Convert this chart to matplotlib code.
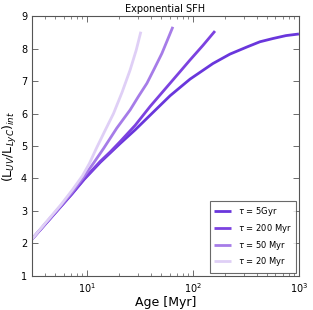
import matplotlib
matplotlib.use("Agg")
import matplotlib.pyplot as plt

labels = [r"$\tau$ = 5Gyr", r"$\tau$ = 200 Myr", r"$\tau$ = 50 Myr", r"$\tau$ = 20 Myr"]
colors = ["#6936dc", "#7c42e0", "#a67ce8", "#dfcff6"]

age_5gyr = [3.0, 4.0, 5.6, 7.2, 9.4, 13.3, 20.5, 28.4, 39.3, 60.7, 93.6, 154, 223, 323, 428, 568, 754, 1000]
val_5gyr = [2.13, 2.59, 3.13, 3.53, 3.98, 4.50, 5.08, 5.50, 5.95, 6.55, 7.06, 7.54, 7.83, 8.05, 8.21, 8.31, 8.40, 8.45]

age_200 = [3.0, 4.0, 5.6, 7.2, 9.4, 13.3, 16.5, 20.5, 28.4, 39.3, 56.6, 75.3, 93.6, 124, 161]
val_200 = [2.13, 2.59, 3.13, 3.54, 4.00, 4.53, 4.82, 5.14, 5.64, 6.22, 6.82, 7.29, 7.65, 8.10, 8.54]

age_50 = [3.0, 4.0, 5.6, 7.2, 9.3, 11.5, 14.3, 19.0, 25.4, 30.5, 36.6, 43.0, 50.7, 57.0, 64.4]
val_50 = [2.13, 2.60, 3.15, 3.58, 4.06, 4.48, 4.93, 5.55, 6.11, 6.53, 6.93, 7.38, 7.85, 8.25, 8.67]

age_20 = [3.0, 4.0, 5.6, 7.2, 9.0, 10.5, 12.2, 14.8, 17.7, 21.3, 25.4, 29.0, 32.1]
val_20 = [2.13, 2.62, 3.18, 3.64, 4.08, 4.47, 4.93, 5.49, 6.00, 6.65, 7.34, 7.95, 8.52]

ages = [age_5gyr, age_200, age_50, age_20]
vals = [val_5gyr, val_200, val_50, val_20]

fig = plt.figure(figsize=(3.13, 3.10), dpi=100)
ax = fig.add_axes([0.102, 0.110, 0.853, 0.838])
for a, v, c, l in zip(ages, vals, colors, labels):
    ax.plot(a, v, color=c, lw=2, label=l, solid_capstyle="butt")

ax.set_xscale("log")
ax.set_xlim(3, 1000)
ax.set_ylim(1, 9)
ax.set_yticks(range(1, 10))
ax.tick_params(direction="in", which="both", top=True, right=True, labelsize=7,
               color="#555555")
ax.tick_params(which="major", length=4, width=0.6)
ax.tick_params(which="minor", length=2, width=0.5)
ax.set_title("Exponential SFH", fontsize=7, pad=3)
ax.set_xlabel("Age [Myr]", fontsize=9, labelpad=1)
ax.set_ylabel(r"(L$_{UV}$/L$_{LyC}$)$_{int}$", fontsize=9, labelpad=1)
leg = ax.legend(loc="lower right", fontsize=6, frameon=True, fancybox=False,
                handlelength=2.0, borderpad=0.5, labelspacing=0.45,
                borderaxespad=0.4)
leg.get_frame().set_edgecolor("#444444")
leg.get_frame().set_linewidth(0.8)
for s in ax.spines.values():
    s.set_color("#555555")
fig.savefig("out.png", dpi=100)
